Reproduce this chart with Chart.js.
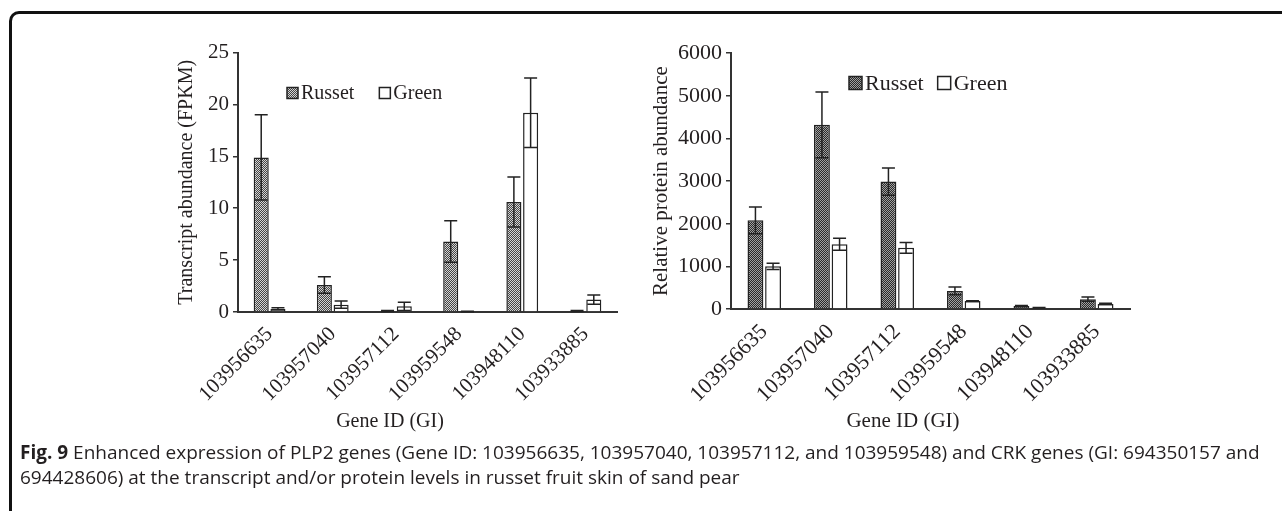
<!DOCTYPE html>
<html>
<head>
<meta charset="utf-8">
<script src="https://cdn.jsdelivr.net/npm/chart.js@4/dist/chart.umd.min.js"></script>
<style>
  body { margin: 0; background: #fff; width: 1282px; height: 511px; overflow: hidden; position: relative; }
  .frame { position: absolute; left: 9px; top: 11px; width: 1300px; height: 530px;
           border-left: 3px solid #111; border-top: 3px solid #111; border-top-left-radius: 10px; }
  canvas { position: absolute; }
  .xtitle { position: absolute; font-family: "Liberation Serif", serif; color: #231f20; white-space: nowrap; transform: translate(-50%, -50%); }
  .caption { position: absolute; left: 20px; top: 440px; font-family: "Open Sans", sans-serif; font-size: 19px; line-height: 25px; color: #231f20; white-space: nowrap; }
</style>
</head>
<body>
<div class="frame"></div>
<canvas id="transcript" style="left:175px; top:36px; width:460px; height:404px;" width="460" height="404"></canvas>
<canvas id="protein" style="left:649px; top:36px; width:500px; height:404px;" width="500" height="404"></canvas>
<div class="xtitle" style="left:390px; top:420px; font-size:20px;">Gene ID (GI)</div>
<div class="xtitle" style="left:903px; top:420px; font-size:21px;">Gene ID (GI)</div>
<div class="caption"><b>Fig. 9</b> Enhanced expression of PLP2 genes (Gene ID: 103956635, 103957040, 103957112, and 103959548) and CRK genes (GI: 694350157 and<br>694428606) at the transcript and/or protein levels in russet fruit skin of sand pear</div>
<script>
var geneIds = ['103956635', '103957040', '103957112', '103959548', '103948110', '103933885'];
var seriesNames = ['Russet', 'Green'];

// transcript abundance (FPKM), mean and error
var transcriptRusset = [14.9, 2.6, 0.1, 6.8, 10.6, 0.1];
var transcriptRussetErr = [4.1, 0.8, 0.05, 2.0, 2.4, 0.05];
var transcriptGreen = [0.3, 0.7, 0.55, 0.05, 19.2, 1.2];
var transcriptGreenErr = [0.1, 0.35, 0.4, 0.02, 3.35, 0.45];
var transcriptTicks = { min: 0, max: 25, step: 5 };

// relative protein abundance, mean and error
var proteinRusset = [2080, 4320, 2990, 425, 70, 230];
var proteinRussetErr = [315, 770, 320, 90, 15, 50];
var proteinGreen = [1000, 1520, 1435, 185, 30, 120];
var proteinGreenErr = [75, 140, 125, 10, 5, 15];
var proteinTicks = { min: 0, max: 6000, step: 1000 };

var ink = '#231f20';
var serif = '"Liberation Serif", "Times New Roman", serif';

function makePattern(dark, light) {
  var c = document.createElement('canvas');
  c.width = 4; c.height = 4;
  var g = c.getContext('2d');
  g.fillStyle = light;
  g.fillRect(0, 0, 4, 4);
  g.fillStyle = dark;
  for (var i = 0; i < 4; i++) {
    for (var j = 0; j < 4; j++) {
      if ((i + j) % 2 === 0) g.fillRect(i, j, 1, 1);
    }
  }
  return g.createPattern(c, 'repeat');
}

// error bars with caps at both ends
var errorBars = {
  id: 'errorBars',
  afterDatasetsDraw: function(chart) {
    var ctx = chart.ctx;
    var y = chart.scales.y;
    ctx.save();
    ctx.strokeStyle = '#222';
    ctx.lineWidth = 1.5;
    chart.data.datasets.forEach(function(ds, i) {
      var meta = chart.getDatasetMeta(i);
      meta.data.forEach(function(bar, j) {
        var v = ds.data[j], e = ds.errors[j];
        var top = y.getPixelForValue(v + e);
        var bot = y.getPixelForValue(Math.max(v - e, 0));
        var half = 6.5;
        ctx.beginPath();
        ctx.moveTo(bar.x, top); ctx.lineTo(bar.x, bot);
        ctx.moveTo(bar.x - half, top); ctx.lineTo(bar.x + half, top);
        ctx.moveTo(bar.x - half, bot); ctx.lineTo(bar.x + half, bot);
        ctx.stroke();
      });
    });
    ctx.restore();
  }
};

// legend drawn inside the plot area
var boxLegend = {
  id: 'boxLegend',
  afterDraw: function(chart, args, opts) {
    var ctx = chart.ctx;
    var x = chart.chartArea.left + opts.x;
    var yc = 50 - chart.canvas.offsetTop + opts.y;
    ctx.save();
    ctx.font = opts.size + 'px ' + serif;
    ctx.textBaseline = 'middle';
    chart.data.datasets.forEach(function(ds) {
      ctx.fillStyle = ds.backgroundColor;
      ctx.fillRect(x, yc - opts.box / 2, opts.box, opts.box);
      ctx.strokeStyle = '#222';
      ctx.lineWidth = 1.5;
      ctx.strokeRect(x, yc - opts.box / 2, opts.box, opts.box);
      ctx.fillStyle = ink;
      ctx.fillText(ds.label, x + opts.box + 3, yc + 1);
      x += opts.box + 3 + ctx.measureText(ds.label).width + opts.gap;
    });
    ctx.restore();
  }
};

function buildChart(id, russet, russetErr, green, greenErr, ticks, yTitle, sizes, pattern) {
  var ctx = document.getElementById(id).getContext('2d');
  return new Chart(ctx, {
    type: 'bar',
    data: {
      labels: geneIds,
      datasets: [
        { label: seriesNames[0], data: russet, errors: russetErr, backgroundColor: pattern,
          borderColor: '#222', borderWidth: 1.5, barPercentage: 0.9, categoryPercentage: 0.53 },
        { label: seriesNames[1], data: green, errors: greenErr, backgroundColor: '#ffffff',
          borderColor: '#222', borderWidth: 1.5, barPercentage: 0.9, categoryPercentage: 0.53 }
      ]
    },
    options: {
      responsive: false,
      animation: false,
      layout: { padding: { top: 0, right: sizes.padRight, left: 0, bottom: 0 } },
      plugins: {
        legend: { display: false },
        tooltip: { enabled: false },
        boxLegend: sizes.legend
      },
      scales: {
        x: {
          grid: { drawOnChartArea: false, drawTicks: false },
          border: { color: '#333', width: 2 },
          ticks: { color: ink, font: { family: serif, size: sizes.xTick }, minRotation: 45, maxRotation: 45, padding: 10, autoSkip: false },
          afterFit: function(s) { s.height = sizes.xHeight; }
        },
        y: {
          min: ticks.min, max: ticks.max,
          grid: { drawOnChartArea: false, drawTicks: true, tickLength: 5, color: '#333', lineWidth: 1.5 },
          border: { color: '#333', width: 2 },
          ticks: { stepSize: ticks.step, color: ink, font: { family: serif, size: sizes.yTick }, padding: 4,
                   callback: function(v) { return String(v); } },
          title: { display: true, text: yTitle, color: ink, font: { family: serif, size: sizes.title }, padding: 0 },
          afterFit: function(s) { s.width = sizes.yWidth; }
        }
      }
    },
    plugins: [errorBars, boxLegend]
  });
}

buildChart('transcript', transcriptRusset, transcriptRussetErr, transcriptGreen, transcriptGreenErr,
  transcriptTicks, 'Transcript abundance (FPKM)',
  { padRight: 18, xHeight: 128, yWidth: 63, xTick: 21, yTick: 21, title: 20,
    legend: { x: 49, y: 43, box: 11, gap: 25, size: 20 } },
  makePattern('#444', '#d4d4d4'));

buildChart('protein', proteinRusset, proteinRussetErr, proteinGreen, proteinGreenErr,
  proteinTicks, 'Relative protein abundance',
  { padRight: 19, xHeight: 131, yWidth: 82, xTick: 22, yTick: 22, title: 21,
    legend: { x: 118, y: 33, box: 13, gap: 14, size: 22 } },
  makePattern('#2a2a2a', '#a0a0a0'));
</script>
</body>
</html>
